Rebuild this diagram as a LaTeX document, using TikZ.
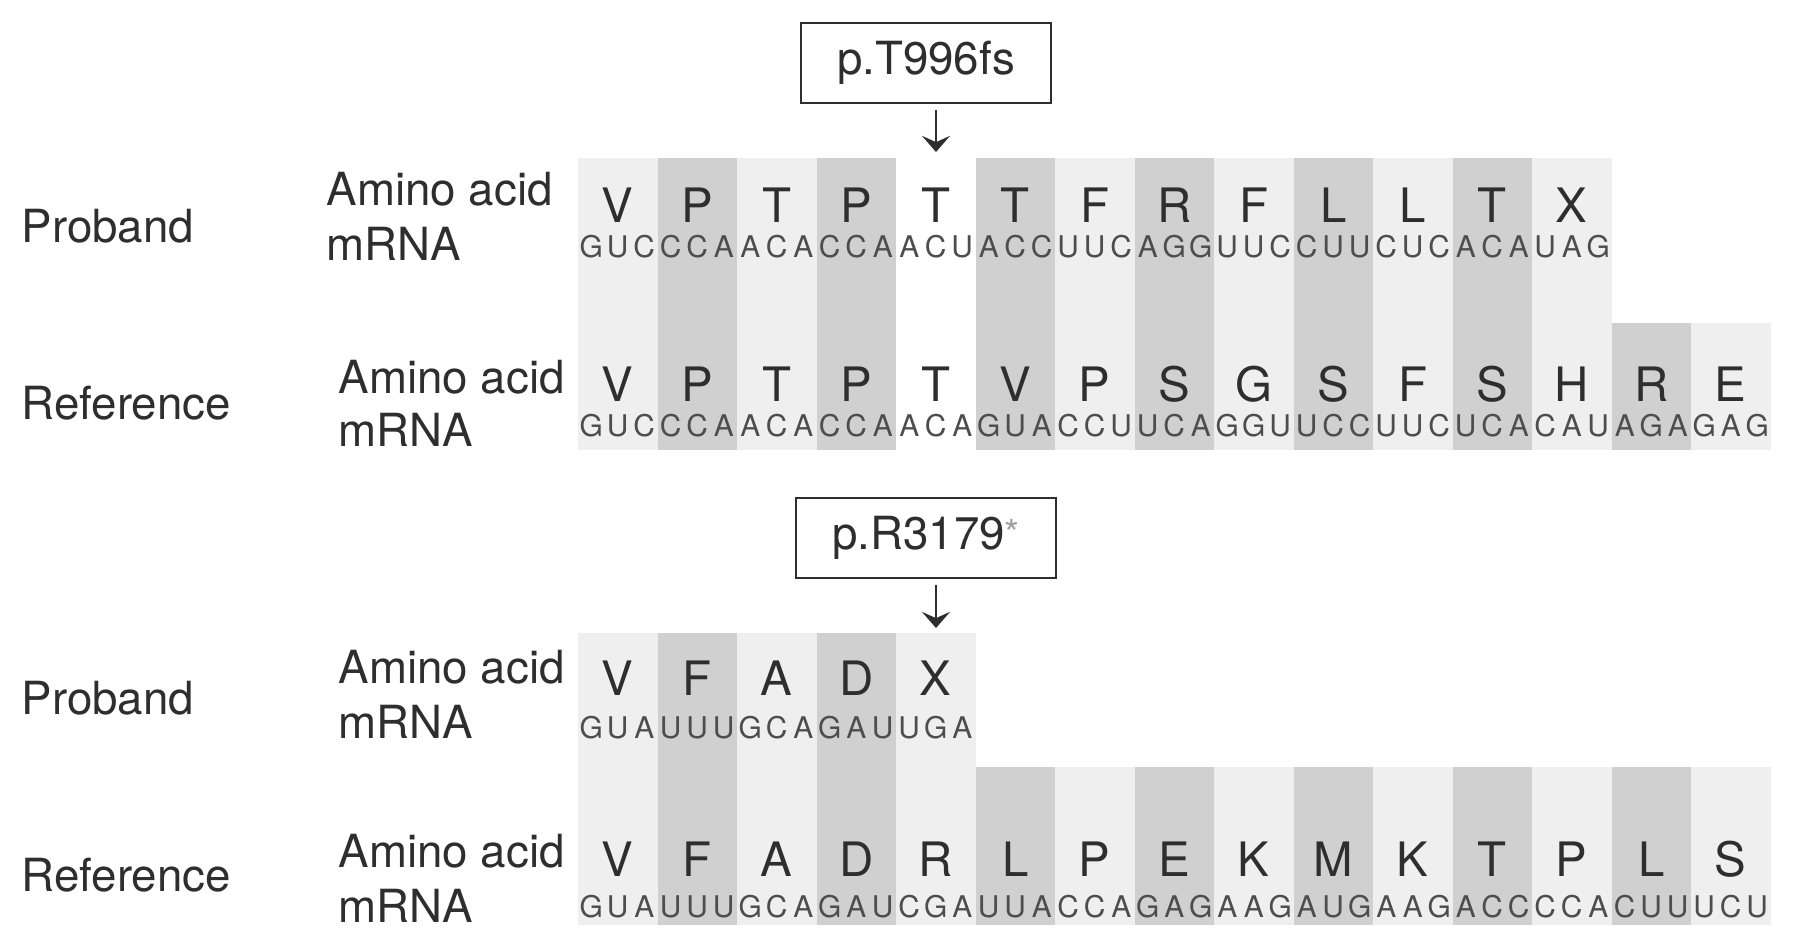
\documentclass[tikz,border=0pt]{standalone}
\usepackage{fontspec}
\setmainfont{TeX Gyre Heros}
\usepackage{xcolor}
\usepackage{tikz}
\usetikzlibrary{arrows.meta, positioning}

\definecolor{shadelight}{HTML}{EFEFEF}
\definecolor{shadedark}{HTML}{D0D0D0}
\definecolor{ink}{HTML}{2E2E2E}

\begin{document}
\begin{tikzpicture}[font=\fontsize{13}{15}\selectfont, text=ink,
  aa/.style={anchor=base, inner sep=0pt, font=\fontsize{13.5}{15}\selectfont},
  nt/.style={anchor=base, inner sep=0pt, font=\fontsize{8.5}{10}\selectfont, text=ink!85},
  rowlbl/.style={anchor=base west, inner sep=0pt},
  mutbox/.style={draw=ink, line width=0.7pt, minimum height=0.8cm, inner sep=0pt},
  mutarrow/.style={draw=ink, line width=0.8pt, -{Stealth[length=4.6pt, width=8pt, inset=1.8pt]}}]
  \useasboundingbox (0,0) rectangle (17.95,-9.5);

  % p.T996fs (frameshift)
  \foreach \c [count=\i from 0] in {shadelight,shadedark,shadelight,shadedark,white,shadedark,shadelight,shadedark,shadelight,shadedark,shadelight,shadedark,shadelight}
    \fill[\c] ({5.78+0.795*\i},-1.58) rectangle ++(0.795,-2.92);
  \fill[shadedark] (16.115,-3.23) rectangle ++(0.795,-1.27);
  \fill[shadelight] (16.91,-3.23) rectangle ++(0.795,-1.27);

  \node[mutbox, minimum width=2.5cm] (mut1) at (9.26,-0.63) {p.T996fs};
  \coordinate (mut1top) at (9.36,-1.10);
  \coordinate (mut1tip) at (9.36,-1.52);
  \draw[mutarrow] (mut1top) -- (mut1tip);

  \node[rowlbl] (prob1) at (0.21,-2.43) {Proband};
  \node[rowlbl] (aa1) at (3.26,-2.06) {Amino acid};
  \node[rowlbl] (mr1) at (3.26,-2.61) {mRNA};
  \foreach \a [count=\i from 0] in {V,P,T,P,T,T,F,R,F,L,L,T,X}
    \node[aa] (tpa\i) at ({6.1775+0.795*\i},-2.23) {\a};
  \foreach \n [count=\i from 0] in {G,U,C,C,C,A,A,C,A,C,C,A,A,C,U,A,C,C,U,U,C,A,G,G,U,U,C,C,U,U,C,U,C,A,C,A,U,A,G}
    \node[nt] (tpn\i) at ({5.9125+0.265*\i},-2.58) {\n};

  \node[rowlbl] (ref1) at (0.21,-4.19) {Reference};
  \node[rowlbl] (aa2) at (3.38,-3.93) {Amino acid};
  \node[rowlbl] (mr2) at (3.38,-4.46) {mRNA};
  \foreach \a [count=\i from 0] in {V,P,T,P,T,V,P,S,G,S,F,S,H,R,E}
    \node[aa] (tra\i) at ({6.1775+0.795*\i},-4.01) {\a};
  \foreach \n [count=\i from 0] in {G,U,C,C,C,A,A,C,A,C,C,A,A,C,A,G,U,A,C,C,U,U,C,A,G,G,U,U,C,C,U,U,C,U,C,A,C,A,U,A,G,A,G,A,G}
    \node[nt] (trn\i) at ({5.9125+0.265*\i},-4.37) {\n};

  % p.R3179* (nonsense)
  \foreach \c [count=\i from 0] in {shadelight,shadedark,shadelight,shadedark,shadelight}
    \fill[\c] ({5.78+0.795*\i},-6.33) rectangle ++(0.795,-2.92);
  \foreach \c [count=\i from 5] in {shadedark,shadelight,shadedark,shadelight,shadedark,shadelight,shadedark,shadelight,shadedark,shadelight}
    \fill[\c] ({5.78+0.795*\i},-7.67) rectangle ++(0.795,-1.58);

  \node[mutbox, minimum width=2.6cm] (mut2) at (9.26,-5.38) {p.R3179{\color{ink!45}\raisebox{0.6pt}{\fontsize{11}{12}\selectfont *}}};
  \coordinate (mut2top) at (9.36,-5.85);
  \coordinate (mut2tip) at (9.36,-6.28);
  \draw[mutarrow] (mut2top) -- (mut2tip);

  \node[rowlbl] (prob2) at (0.21,-7.14) {Proband};
  \node[rowlbl] (aa3) at (3.38,-6.83) {Amino acid};
  \node[rowlbl] (mr3) at (3.38,-7.38) {mRNA};
  \foreach \a [count=\i from 0] in {V,F,A,D,X}
    \node[aa] (bpa\i) at ({6.1775+0.795*\i},-6.95) {\a};
  \foreach \n [count=\i from 0] in {G,U,A,U,U,U,G,C,A,G,A,U,U,G,A}
    \node[nt] (bpn\i) at ({5.9125+0.265*\i},-7.38) {\n};

  \node[rowlbl] (ref2) at (0.21,-8.91) {Reference};
  \node[rowlbl] (aa4) at (3.38,-8.67) {Amino acid};
  \node[rowlbl] (mr4) at (3.38,-9.22) {mRNA};
  \foreach \a [count=\i from 0] in {V,F,A,D,R,L,P,E,K,M,K,T,P,L,S}
    \node[aa] (bra\i) at ({6.1775+0.795*\i},-8.76) {\a};
  \foreach \n [count=\i from 0] in {G,U,A,U,U,U,G,C,A,G,A,U,C,G,A,U,U,A,C,C,A,G,A,G,A,A,G,A,U,G,A,A,G,A,C,C,C,C,A,C,U,U,U,C,U}
    \node[nt] (brn\i) at ({5.9125+0.265*\i},-9.17) {\n};
\end{tikzpicture}
\end{document}
